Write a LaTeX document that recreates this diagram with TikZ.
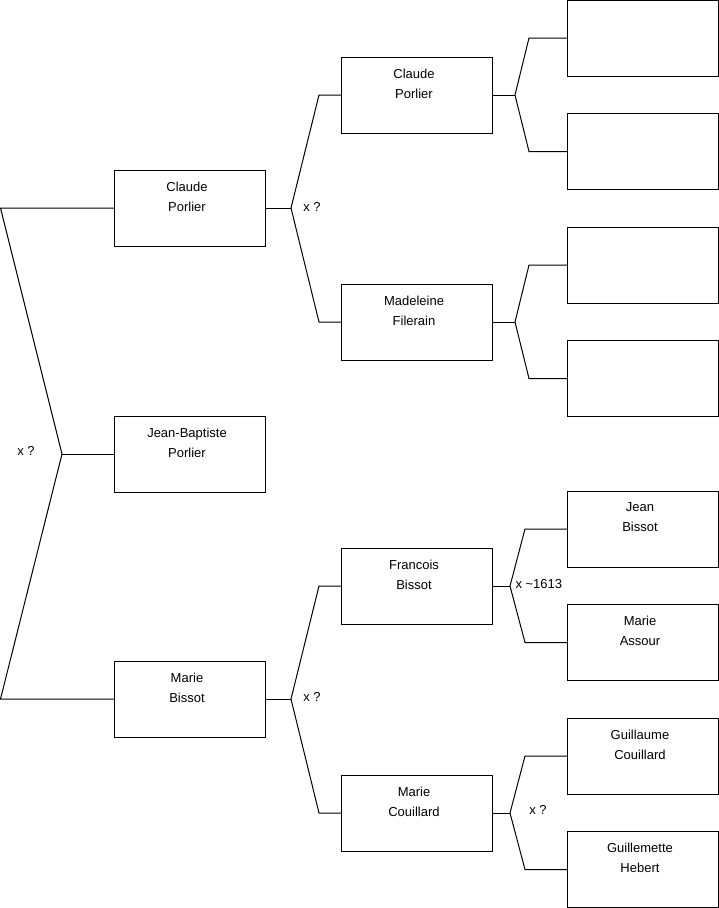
\documentclass[tikz,border=0pt]{standalone}
\usepackage{fontspec}
\setmainfont{Liberation Sans}
\usepackage{tikz}

\begin{document}
\begin{tikzpicture}[x=1pt, y=-1pt, line width=1pt,
        person/.style={draw, minimum width=151pt, minimum height=76pt, inner sep=0pt, outer sep=0pt},
        name text/.style={font=\fontsize{13}{20}\selectfont, align=center, inner sep=0pt, anchor=north, xshift=-2.5pt, yshift=-11.5pt},
        marriage/.style={font=\fontsize{13}{16}\selectfont, inner sep=0pt}]
        % Canvas
        \useasboundingbox (0,0) rectangle (719,908);

        % 1. First generation (Left)
        \node[person] (cp1) at (189.5, 208) {};
        \node[name text] (cp1t) at (cp1.north) {Claude\\Porlier};
        \node[person] (jbp) at (189.5, 454) {};
        \node[name text] (jbpt) at (jbp.north) {Jean-Baptiste\\Porlier};
        \node[person] (mb1) at (189.5, 699) {};
        \node[name text] (mb1t) at (mb1.north) {Marie\\Bissot};

        % 2. Second generation (Middle)
        \node[person] (cp2) at (416.5, 95) {};
        \node[name text] (cp2t) at (cp2.north) {Claude\\Porlier};
        \node[person] (mf2) at (416.5, 322) {};
        \node[name text] (mf2t) at (mf2.north) {Madeleine\\Filerain};
        \node[person] (fb2) at (416.5, 586) {};
        \node[name text] (fb2t) at (fb2.north) {Francois\\Bissot};
        \node[person] (mc2) at (416.5, 813) {};
        \node[name text] (mc2t) at (mc2.north) {Marie\\Couillard};

        % 3. Third generation (Right)
        \node[person] (p31) at (642.5, 38) {};
        \node[person] (p32) at (642.5, 151.5) {};
        \node[person] (p33) at (642.5, 265) {};
        \node[person] (p34) at (642.5, 378.5) {};
        \node[person] (jb3) at (642.5, 529) {};
        \node[name text] (jb3t) at (jb3.north) {Jean\\Bissot};
        \node[person] (ma3) at (642.5, 642.5) {};
        \node[name text] (ma3t) at (ma3.north) {Marie\\Assour};
        \node[person] (gc3) at (642.5, 756) {};
        \node[name text] (gc3t) at (gc3.north) {Guillaume\\Couillard};
        \node[person] (gh3) at (642.5, 869.5) {};
        \node[name text] (gh3t) at (gh3.north) {Guillemette\\Hebert};

        % Junction points
        \coordinate (j0) at (62, 454);
        \coordinate (j0a) at (0.5, 208);
        \coordinate (j0b) at (0.5, 699);
        \coordinate (j1) at (291, 208);
        \coordinate (j1a) at (319, 95);
        \coordinate (j1b) at (319, 322);
        \coordinate (j2) at (291, 699);
        \coordinate (j2a) at (319, 586);
        \coordinate (j2b) at (319, 813);
        \coordinate (j3) at (515, 95);
        \coordinate (j3a) at (529, 38);
        \coordinate (j3b) at (529, 151.5);
        \coordinate (j4) at (515, 322);
        \coordinate (j4a) at (529, 265);
        \coordinate (j4b) at (529, 378.5);
        \coordinate (j5) at (510, 586);
        \coordinate (j5a) at (525, 529);
        \coordinate (j5b) at (525, 642.5);
        \coordinate (j6) at (510, 813);
        \coordinate (j6a) at (525, 756);
        \coordinate (j6b) at (525, 869.5);

        % Connectors
        \draw (cp1.west) -- (j0a) -- (j0) -- (j0b) -- (mb1.west);
        \draw (j0) -- (jbp.west);
        \draw (cp1.east) -- (j1);
        \draw (cp2.west) -- (j1a) -- (j1) -- (j1b) -- (mf2.west);
        \draw (mb1.east) -- (j2);
        \draw (fb2.west) -- (j2a) -- (j2) -- (j2b) -- (mc2.west);
        \draw (cp2.east) -- (j3);
        \draw (p31.west) -- (j3a) -- (j3) -- (j3b) -- (p32.west);
        \draw (mf2.east) -- (j4);
        \draw (p33.west) -- (j4a) -- (j4) -- (j4b) -- (p34.west);
        \draw (fb2.east) -- (j5);
        \draw (jb3.west) -- (j5a) -- (j5) -- (j5b) -- (ma3.west);
        \draw (mc2.east) -- (j6);
        \draw (gc3.west) -- (j6a) -- (j6) -- (j6b) -- (gh3.west);

        % Marriage labels
        \node[marriage] (m0) at (26, 451) {x ?};
        \node[marriage] (m1) at (312, 207) {x ?};
        \node[marriage] (m2) at (312, 697) {x ?};
        \node[marriage, anchor=west] (m5) at (515, 584) {x \textasciitilde1613};
        \node[marriage] (m6) at (538, 810) {x ?};
    \end{tikzpicture}
\end{document}
